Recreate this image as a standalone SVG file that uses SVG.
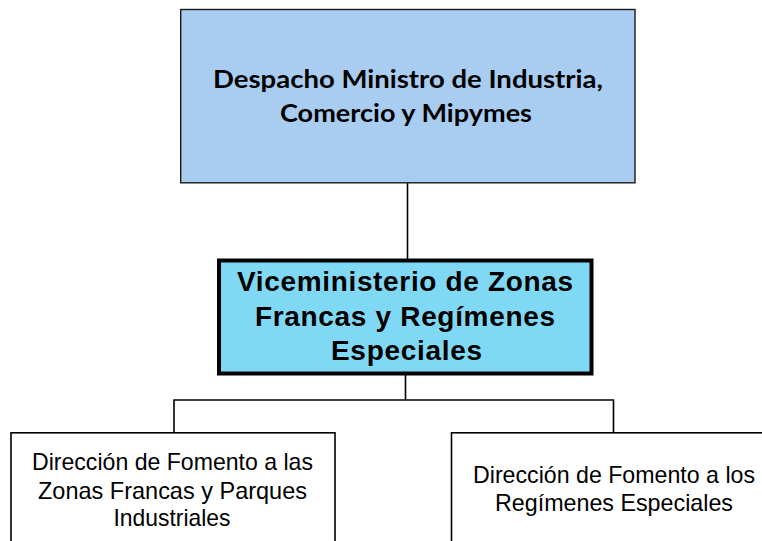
<svg xmlns="http://www.w3.org/2000/svg" width="762" height="541" viewBox="0 0 762 541">
<style>
.conn{fill:none;stroke:#000;stroke-width:1.6}
.top{fill:#A9CDF1;stroke:#1a1a1a;stroke-width:1.4}
.mid{fill:#80D9F4;stroke:#000;stroke-width:4}
.low{fill:#fff;stroke:#000;stroke-width:1.6}
.t1{font-family:Lato,"Open Sans",sans-serif;font-weight:bold;font-size:24px;fill:#000;text-anchor:middle}
.t2{font-family:"Liberation Sans",Arial,sans-serif;font-weight:bold;font-size:28px;fill:#000;text-anchor:middle}
.t3{font-family:"Liberation Sans",Arial,sans-serif;font-size:23.2px;fill:#000;text-anchor:middle}
</style>
<rect width="762" height="541" fill="#fff"/>
<g id="connectors">
<line class="conn" x1="407.5" y1="183" x2="407.5" y2="259"/>
<polyline class="conn" points="405.5,375 405.5,400"/>
<polyline class="conn" points="174,433 174,400 613.5,400 613.5,433"/>
</g>
<g id="despacho">
<rect class="top" x="180.7" y="9.5" width="454.3" height="173.3"/>
<text class="t1" x="408" y="88" textLength="390" lengthAdjust="spacingAndGlyphs">Despacho Ministro de Industria,</text>
<text class="t1" x="406" y="122" textLength="252" lengthAdjust="spacingAndGlyphs">Comercio y Mipymes</text>
</g>
<g id="viceministerio">
<rect class="mid" x="219" y="260.5" width="372.5" height="113"/>
<text class="t2" x="405" y="291" textLength="336" lengthAdjust="spacing">Viceministerio de Zonas</text>
<text class="t2" x="405" y="326" textLength="300" lengthAdjust="spacing">Francas y Regímenes</text>
<text class="t2" x="406.5" y="359.5" textLength="151" lengthAdjust="spacing">Especiales</text>
</g>
<g id="direccion-zonas">
<rect class="low" x="11" y="432.8" width="324" height="120"/>
<text class="t3" x="172.5" y="470" textLength="281" lengthAdjust="spacingAndGlyphs">Dirección de Fomento a las</text>
<text class="t3" x="172.5" y="498.5" textLength="269" lengthAdjust="spacingAndGlyphs">Zonas Francas y Parques</text>
<text class="t3" x="172" y="526" textLength="117" lengthAdjust="spacingAndGlyphs">Industriales</text>
</g>
<g id="direccion-regimenes">
<rect class="low" x="451.5" y="432.8" width="312" height="120"/>
<text class="t3" x="614" y="483" textLength="282" lengthAdjust="spacingAndGlyphs">Dirección de Fomento a los</text>
<text class="t3" x="614" y="511" textLength="238" lengthAdjust="spacingAndGlyphs">Regímenes Especiales</text>
</g>
</svg>
